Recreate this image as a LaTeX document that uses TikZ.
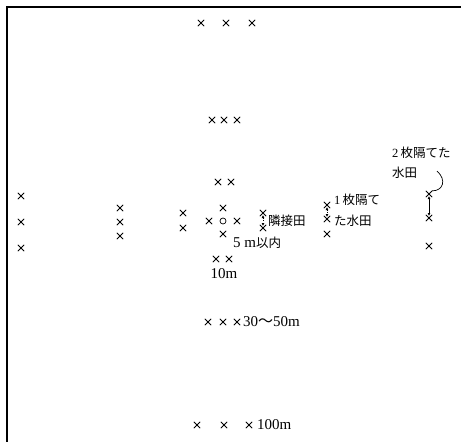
\documentclass[tikz,border=0pt]{standalone}
\usepackage{fontspec}
\setmainfont{Liberation Serif}
\newfontfamily\jp{Noto Sans CJK JP}
\usetikzlibrary{positioning, shapes.misc, arrows.meta}

\begin{document}
\begin{tikzpicture}[
      x = 1pt, y = -1pt,
      mk/.style   = {cross out, draw, minimum size=5.5pt, inner sep=0pt, line width=0.8pt},
      src/.style  = {circle, draw, minimum size=6pt, inner sep=0pt, line width=0.7pt},
      num/.style  = {inner sep=0pt, anchor=west, font=\fontsize{15}{17}\selectfont},
      note/.style = {inner sep=0pt, anchor=west, align=left, font=\fontsize{12.5}{21}\selectfont},
      gap/.style  = {{Latex[length=3pt,width=3pt]}-{Latex[length=3pt,width=3pt]},
                     line width=0.7pt, shorten <=2pt, shorten >=2pt}]
    \useasboundingbox (0,0) rectangle (461,442);
    % frame: only the top and left edges are shown
    \draw[line width=1.2pt] (7,442) -- (7,7) -- (461,7);
    % source field in the middle and its four neighbours
    \node[src] (o)  at (223,221) {};
    \node[mk]  (cn) at (223,208) {};
    \node[mk]  (cw) at (209,221) {};
    \node[mk]  (ce) at (237,221) {};
    \node[mk]  (cs) at (223,234) {};
    % 10 m
    \node[mk] (tn1) at (218,182) {};
    \node[mk] (tn2) at (231,182) {};
    \node[mk] (ts1) at (216,259) {};
    \node[mk] (ts2) at (229,259) {};
    \node[num, anchor=center] (ten) at (224,274) {10m};
    % 30--50 m
    \node[mk] (fn1) at (212,120) {};
    \node[mk] (fn2) at (224,120) {};
    \node[mk] (fn3) at (237,120) {};
    \node[mk] (fs1) at (208,322) {};
    \node[mk] (fs2) at (223,322) {};
    \node[mk] (fs3) at (237,322) {};
    \node[num] (fifty) at (243,322) {30{\jp 〜}50m};
    % 100 m
    \node[mk] (hn1) at (201,23) {};
    \node[mk] (hn2) at (226,23) {};
    \node[mk] (hn3) at (252,23) {};
    \node[mk] (hs1) at (197,425) {};
    \node[mk] (hs2) at (224,425) {};
    \node[mk] (hs3) at (249,425) {};
    \node[num] (hundred) at (257,425) {100m};
    % western side
    \node[mk] (w31) at (183,213) {};
    \node[mk] (w32) at (183,228) {};
    \node[mk] (w21) at (120,208) {};
    \node[mk] (w22) at (120,222) {};
    \node[mk] (w23) at (120,236) {};
    \node[mk] (w11) at (21,196) {};
    \node[mk] (w12) at (21,222) {};
    \node[mk] (w13) at (21,248) {};
    % eastern side: neighbouring field, one and two fields away
    \node[mk] (a1) at (263,213) {};
    \node[mk] (a2) at (263,228) {};
    \draw[gap, dotted] (a1.center) -- (a2.center);
    \node[note] (adj)    at (268,221) {{\jp 隣接田}};
    \node[num]  (within) at (233,243) {5 m{\fontsize{12.5}{15}\selectfont\jp 以内}};
    \node[mk] (b1) at (327,205) {};
    \node[mk] (b2) at (327,219) {};
    \node[mk] (b3) at (327,234) {};
    \draw[gap, dotted] (b1.center) -- (b2.center);
    \node[note] (one) at (334,210) {1\,{\jp 枚隔て}\\{\jp た水田}};
    \node[mk] (c1) at (429,194) {};
    \node[mk] (c2) at (429,218) {};
    \node[mk] (c3) at (429,246) {};
    \draw[gap] (c1.center) -- (c2.center);
    \node[note, font=\fontsize{12.5}{20}\selectfont] (two) at (392,163) {2\,{\jp 枚隔てた}\\{\jp 水田}};
    \coordinate (bend) at (437,171);
    \draw[line width=0.7pt] (bend) .. controls (447,180) and (443,191) .. (c1.north east);
  \end{tikzpicture}
\end{document}
